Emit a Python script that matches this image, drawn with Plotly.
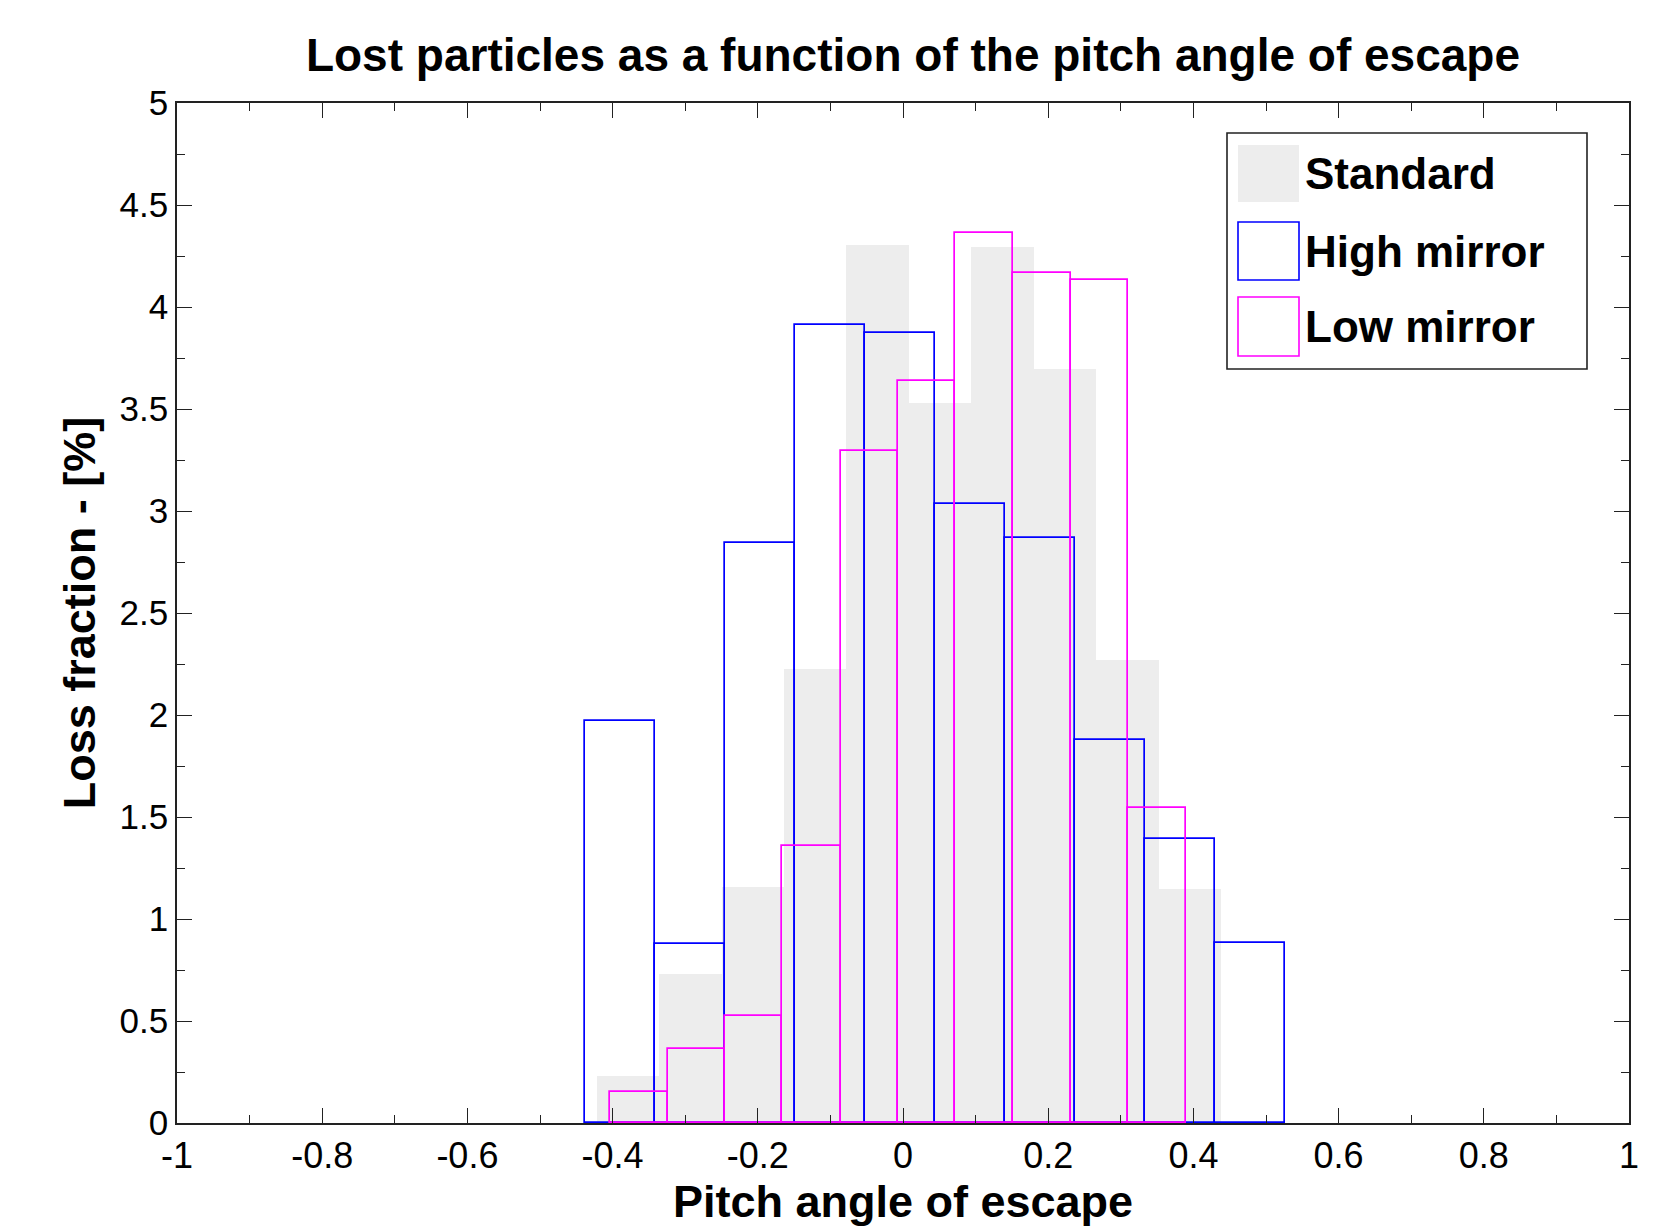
import plotly.graph_objects as go

# ---------------- data ----------------
series_names = ["Standard", "High mirror", "Low mirror"]

# histogram bin edges (pitch angle of escape)
std_edges = [-0.422, -0.336, -0.250, -0.164, -0.078, 0.008, 0.094, 0.180, 0.266, 0.352, 0.438]
high_edges = [-0.438, -0.342, -0.245, -0.149, -0.052, 0.044, 0.140, 0.237, 0.333, 0.430, 0.526]
low_edges = [-0.403, -0.324, -0.245, -0.166, -0.086, -0.007, 0.072, 0.152, 0.231, 0.310, 0.390]

# loss fraction per bin [%]
std_vals = [0.23, 0.73, 1.155, 2.225, 4.305, 3.527, 4.296, 3.695, 2.269, 1.145]
high_vals = [1.973, 0.878, 2.841, 3.911, 3.875, 3.035, 2.867, 1.878, 1.390, 0.880]
low_vals = [0.150, 0.363, 0.524, 1.356, 3.293, 3.636, 4.363, 4.169, 4.131, 1.546]

x_tick_vals = [-1, -0.8, -0.6, -0.4, -0.2, 0, 0.2, 0.4, 0.6, 0.8, 1]
x_tick_text = ["-1", "-0.8", "-0.6", "-0.4", "-0.2", "0", "0.2", "0.4", "0.6", "0.8", "1"]
y_tick_vals = [0, 0.5, 1, 1.5, 2, 2.5, 3, 3.5, 4, 4.5, 5]
y_tick_text = ["0", "0.5", "1", "1.5", "2", "2.5", "3", "3.5", "4", "4.5", "5"]

title_text = "Lost particles as a function of the pitch angle of escape"
x_title = "Pitch angle of escape"
y_title = "Loss fraction - [%]"

# ---------------- styles ----------------
FONT = "Liberation Sans, Arial, Helvetica, sans-serif"
GRAY = "#ededed"
BLUE = "#0000ff"
MAGENTA = "#ff00ff"
AXIS = "#222222"


def centers_widths(edges):
    c = [(edges[i] + edges[i + 1]) / 2 for i in range(len(edges) - 1)]
    w = [edges[i + 1] - edges[i] for i in range(len(edges) - 1)]
    return c, w


fig = go.Figure()

c, w = centers_widths(std_edges)
fig.add_trace(go.Bar(x=c, y=std_vals, width=w, name=series_names[0],
                     marker=dict(color=GRAY, line=dict(width=0))))
c, w = centers_widths(high_edges)
fig.add_trace(go.Bar(x=c, y=high_vals, width=w, name=series_names[1],
                     marker=dict(color="rgba(0,0,0,0)", line=dict(color=BLUE, width=1.7))))
c, w = centers_widths(low_edges)
fig.add_trace(go.Bar(x=c, y=low_vals, width=w, name=series_names[2],
                     marker=dict(color="rgba(0,0,0,0)", line=dict(color=MAGENTA, width=1.7))))

W, H = 1664, 1232
OFF = 8  # page body margin in the screenshot
ML, MR, MT, MB = 169, 43, 95, 117

fig.update_layout(
    width=W, height=H,
    margin=dict(l=ML, r=MR, t=MT, b=MB),
    paper_bgcolor="white", plot_bgcolor="white",
    barmode="overlay", bargap=0,
    showlegend=False,
    font=dict(family=FONT, color="black", size=35),
    title=dict(text="<b>" + title_text + "</b>", x=0.5 + 10 / (W - ML - MR), xref="paper", xanchor="center",
               y=1 - (55 - OFF) / H, yref="container", yanchor="middle",
               font=dict(family=FONT, size=46, color="black")),
)

fig.update_xaxes(
    range=[-1, 1], tickmode="array", tickvals=x_tick_vals, ticktext=x_tick_text,
    ticks="inside", ticklen=15, tickwidth=1.3, tickcolor=AXIS,
    minor=dict(dtick=0.1, tick0=0, ticks="inside", ticklen=8, tickwidth=1.3, tickcolor=AXIS),
    showline=True, linecolor=AXIS, linewidth=1.6, mirror="allticks",
    showgrid=False, zeroline=False,
    tickfont=dict(size=36, family=FONT, color="black"),
    title=dict(text="<b>" + x_title + "</b>", font=dict(size=45, family=FONT, color="black"), standoff=10),
)
fig.update_yaxes(
    range=[0, 5], tickmode="array", tickvals=y_tick_vals, ticktext=y_tick_text,
    ticks="inside", ticklen=15, tickwidth=1.3, tickcolor=AXIS,
    minor=dict(dtick=0.25, tick0=0, ticks="inside", ticklen=8, tickwidth=1.3, tickcolor=AXIS),
    showline=True, linecolor=AXIS, linewidth=1.6, mirror="allticks",
    showgrid=False, zeroline=False,
    tickfont=dict(size=35, family=FONT, color="black"),
    title=dict(text="<b>" + y_title + "</b>", font=dict(size=45, family=FONT, color="black"), standoff=10),
)

# ---------------- legend (large swatches as in the reference) ----------------
PW, PH = W - ML - MR, H - MT - MB


def px_to_paper(x, y):
    # screenshot pixel -> paper coordinates
    return (x - OFF - ML) / PW, (H - MB - (y - OFF)) / PH


bx0, by0 = px_to_paper(1227, 133)
bx1, by1 = px_to_paper(1587, 369)
fig.add_shape(type="rect", xref="paper", yref="paper", x0=bx0, y0=by1, x1=bx1, y1=by0,
              line=dict(color=AXIS, width=1.6), fillcolor="white", layer="above")

swatch_rows = [(145, 202), (222, 280), (297, 356)]
swatch_styles = [dict(fillcolor=GRAY, line=dict(width=0)),
                 dict(fillcolor="white", line=dict(color=BLUE, width=1.6)),
                 dict(fillcolor="white", line=dict(color=MAGENTA, width=1.6))]
for name, (t, b), st in zip(series_names, swatch_rows, swatch_styles):
    sx0, sy0 = px_to_paper(1238, t)
    sx1, sy1 = px_to_paper(1299, b)
    fig.add_shape(type="rect", xref="paper", yref="paper", x0=sx0, y0=sy1, x1=sx1, y1=sy0,
                  layer="above", **st)
    tx, ty = px_to_paper(1303, (t + b) / 2)
    fig.add_annotation(x=tx, y=ty, xref="paper", yref="paper", xanchor="left", yanchor="middle",
                       text="<b>" + name + "</b>", showarrow=False,
                       font=dict(size=44, family=FONT, color="black"))

fig.write_html("out.html")
